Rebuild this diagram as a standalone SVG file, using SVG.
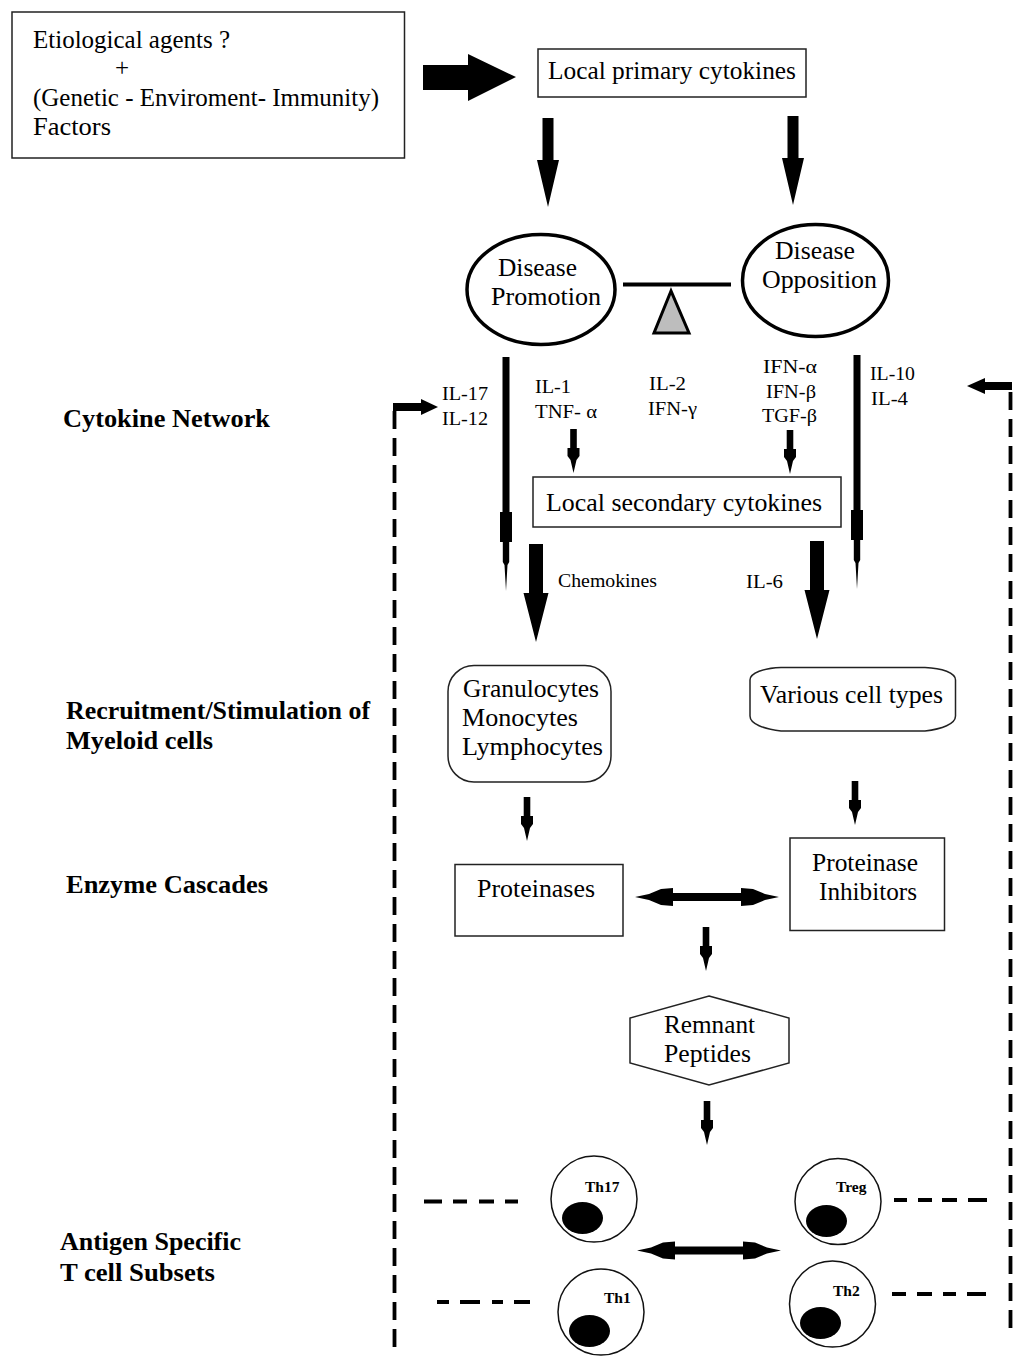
<svg xmlns="http://www.w3.org/2000/svg" width="1024" height="1367" viewBox="0 0 1024 1367">
<style>
text{font-family:"Liberation Serif","Times New Roman",serif;fill:#000}
.l{font-size:25px}
.s{font-size:19px}
.b{font-size:25px;font-weight:bold}
.c{font-size:15.5px;font-weight:bold}
.box{fill:#fff;stroke:#222;stroke-width:1.5}
.cell{fill:#fff;stroke:#111;stroke-width:1.5}
.oval{fill:#fff;stroke:#000;stroke-width:3.5}
.dash{fill:none;stroke:#000;stroke-width:3.8}
polygon.a{fill:#000}
</style>
<defs>
<polygon id="small" class="a" points="-3.300,0 3.300,0 3.300,19 6,19 6,27 3,31 0,44 -3,31 -6,27 -6,19 -3.300,19"/>
<polygon id="long" class="a" points="-3.500,0 3.500,0 3.500,155 6,155 6,185 3.200,185 3.200,205 1.500,208 0,234 -1.500,208 -3.200,205 -3.200,185 -6,185 -6,155 -3.500,155"/>
<polygon id="fat" class="a" points="-7,0 7,0 7,49 12.500,49 0,98 -12.500,49 -7,49"/>
<polygon id="top" class="a" points="-5.500,0 5.500,0 5.500,42 11,42 0,89 -11,42 -5.500,42"/>
<polygon id="dbl" class="a" points="0,0 14,-3 26,-8 38,-9 38,-4 106,-4 106,-9 118,-8 130,-3 144,0 130,3 118,8 106,9 106,4 38,4 38,9 26,8 14,3"/>
</defs>

<g id="connectors">
<polygon class="a" points="423,65 468,65 468,54 516,77 468,101 468,90 423,90"/>
<use href="#top" x="548" y="118"/>
<use href="#top" x="793" y="116"/>
<use href="#long" x="506" y="357"/>
<use href="#long" x="857" y="355"/>
<use href="#small" x="573.500" y="429"/>
<use href="#small" x="790" y="430"/>
<use href="#fat" x="536" y="544"/>
<use href="#fat" x="817" y="541"/>
<use href="#small" x="527" y="797"/>
<use href="#small" x="855" y="781"/>
<use href="#dbl" x="635" y="897"/>
<use href="#small" x="706" y="927"/>
<use href="#small" x="707" y="1101"/>
<use href="#dbl" x="637" y="1250.500"/>
<path class="dash" d="M394.500 1347V404" stroke-dasharray="18 9"/>
<polygon class="a" points="393,403 421,403 421,399 438,407 421,415 421,411 393,411"/>
<path class="dash" d="M1010.500 1328V385" stroke-dasharray="18 9"/>
<polygon class="a" points="1012,382 985,382 985,378 967,386 985,394 985,390 1012,390"/>
<path class="dash" d="M424 1201.500H442M453 1201.500H467M479 1201.500H494M505 1201.500H518"/>
<path class="dash" d="M437 1302H449M460 1302H480M492 1302H503M514 1302H530"/>
<path class="dash" d="M894 1200H907M918 1200H932M942 1200H957M968 1200H987"/>
<path class="dash" d="M892 1294H906M917 1294H932M943 1294H956M967 1294H986"/>
</g>

<g id="node-etiological">
<rect class="box" x="12" y="12" width="392.500" height="146"/>
<text class="l" x="33" y="48" textLength="197" lengthAdjust="spacingAndGlyphs">Etiological agents ?</text>
<text class="l" x="115" y="76">+</text>
<text class="l" x="33" y="106" textLength="346" lengthAdjust="spacingAndGlyphs">(Genetic - Enviroment- Immunity)</text>
<text class="l" x="33" y="135" textLength="78" lengthAdjust="spacingAndGlyphs">Factors</text>
</g>
<g id="node-primary">
<rect class="box" x="538" y="49" width="268" height="48"/>
<text class="l" x="548" y="79" textLength="248" lengthAdjust="spacingAndGlyphs">Local primary cytokines</text>
</g>
<g id="node-promotion">
<ellipse class="oval" cx="541" cy="289.500" rx="74" ry="55"/>
<text class="l" x="498" y="276" textLength="79" lengthAdjust="spacingAndGlyphs">Disease</text>
<text class="l" x="491" y="305" textLength="110" lengthAdjust="spacingAndGlyphs">Promotion</text>
</g>
<g id="node-opposition">
<ellipse class="oval" cx="815.500" cy="280.500" rx="73" ry="56"/>
<text class="l" x="775" y="259" textLength="80" lengthAdjust="spacingAndGlyphs">Disease</text>
<text class="l" x="762" y="288" textLength="115" lengthAdjust="spacingAndGlyphs">Opposition</text>
</g>
<g id="node-balance">
<path d="M623 284.500H731" stroke="#000" stroke-width="4" fill="none"/>
<polygon points="671,291 654,333 689,333" fill="#bdbdbd" stroke="#000" stroke-width="3"/>
</g>

<g id="labels-cytokines">
<text class="s" x="442" y="400" textLength="46" lengthAdjust="spacingAndGlyphs">IL-17</text>
<text class="s" x="442" y="425" textLength="46" lengthAdjust="spacingAndGlyphs">IL-12</text>
<text class="s" x="535" y="393" textLength="36" lengthAdjust="spacingAndGlyphs">IL-1</text>
<text class="s" x="535" y="418" textLength="62" lengthAdjust="spacingAndGlyphs">TNF- α</text>
<text class="s" x="649" y="390" textLength="37" lengthAdjust="spacingAndGlyphs">IL-2</text>
<text class="s" x="648" y="415" textLength="49" lengthAdjust="spacingAndGlyphs">IFN-γ</text>
<text class="s" x="763" y="373" textLength="54" lengthAdjust="spacingAndGlyphs">IFN-α</text>
<text class="s" x="766" y="398" textLength="50" lengthAdjust="spacingAndGlyphs">IFN-β</text>
<text class="s" x="762" y="422" textLength="55" lengthAdjust="spacingAndGlyphs">TGF-β</text>
<text class="s" x="870" y="380" textLength="45" lengthAdjust="spacingAndGlyphs">IL-10</text>
<text class="s" x="871" y="405" textLength="37" lengthAdjust="spacingAndGlyphs">IL-4</text>
<text class="s" x="558" y="587" textLength="99" lengthAdjust="spacingAndGlyphs">Chemokines</text>
<text class="s" x="746" y="588" textLength="37" lengthAdjust="spacingAndGlyphs">IL-6</text>
</g>

<g id="node-secondary">
<rect class="box" x="533" y="477" width="308" height="50"/>
<text class="l" x="546" y="511" textLength="276" lengthAdjust="spacingAndGlyphs">Local secondary cytokines</text>
</g>
<g id="node-myeloid">
<rect class="box" x="448" y="665.500" width="163" height="116.500" rx="26" ry="26"/>
<text class="l" x="463" y="697" textLength="136" lengthAdjust="spacingAndGlyphs">Granulocytes</text>
<text class="l" x="462" y="726" textLength="116" lengthAdjust="spacingAndGlyphs">Monocytes</text>
<text class="l" x="462" y="755" textLength="141" lengthAdjust="spacingAndGlyphs">Lymphocytes</text>
</g>
<g id="node-various">
<path class="box" d="M781 667.500H925C942 668 955.500 673 955.500 680V716C955.500 724 942 729 925 731H781C764 729 750 724 750 716V680C750 673 764 668 781 667.500Z"/>
<text class="l" x="760" y="703" textLength="183" lengthAdjust="spacingAndGlyphs">Various cell types</text>
</g>
<g id="node-proteinases">
<rect class="box" x="455" y="864.500" width="168" height="71.500"/>
<text class="l" x="477" y="897" textLength="118" lengthAdjust="spacingAndGlyphs">Proteinases</text>
</g>
<g id="node-inhibitors">
<rect class="box" x="790" y="838" width="154.500" height="92.500"/>
<text class="l" x="812" y="871" textLength="106" lengthAdjust="spacingAndGlyphs">Proteinase</text>
<text class="l" x="819" y="900" textLength="98" lengthAdjust="spacingAndGlyphs">Inhibitors</text>
</g>
<g id="node-peptides">
<polygon class="box" points="709,996 789,1018 789,1063 709,1085 630,1063 630,1018"/>
<text class="l" x="664" y="1033" textLength="91" lengthAdjust="spacingAndGlyphs">Remnant</text>
<text class="l" x="664" y="1062" textLength="87" lengthAdjust="spacingAndGlyphs">Peptides</text>
</g>

<g id="node-th17">
<ellipse class="cell" cx="594" cy="1199" rx="43" ry="43"/>
<ellipse cx="582.500" cy="1218" rx="20.500" ry="16"/>
<text class="c" x="585" y="1192">Th17</text>
</g>
<g id="node-treg">
<ellipse class="cell" cx="838" cy="1201.500" rx="43" ry="43"/>
<ellipse cx="826.500" cy="1221" rx="20.500" ry="16"/>
<text class="c" x="836" y="1192">Treg</text>
</g>
<g id="node-th1">
<ellipse class="cell" cx="601" cy="1312" rx="43" ry="43"/>
<ellipse cx="589.500" cy="1331" rx="20.500" ry="16"/>
<text class="c" x="604" y="1303">Th1</text>
</g>
<g id="node-th2">
<ellipse class="cell" cx="832.500" cy="1304" rx="43" ry="43"/>
<ellipse cx="820.500" cy="1323" rx="20.500" ry="16"/>
<text class="c" x="833" y="1296">Th2</text>
</g>

<g id="side-labels">
<text class="b" x="63" y="427" textLength="207" lengthAdjust="spacingAndGlyphs">Cytokine Network</text>
<text class="b" x="66" y="719" textLength="304" lengthAdjust="spacingAndGlyphs">Recruitment/Stimulation of</text>
<text class="b" x="66" y="749" textLength="147" lengthAdjust="spacingAndGlyphs">Myeloid cells</text>
<text class="b" x="66" y="893" textLength="202" lengthAdjust="spacingAndGlyphs">Enzyme Cascades</text>
<text class="b" x="60" y="1250" textLength="181" lengthAdjust="spacingAndGlyphs">Antigen Specific</text>
<text class="b" x="60" y="1281" textLength="155" lengthAdjust="spacingAndGlyphs">T cell Subsets</text>
</g>
</svg>
